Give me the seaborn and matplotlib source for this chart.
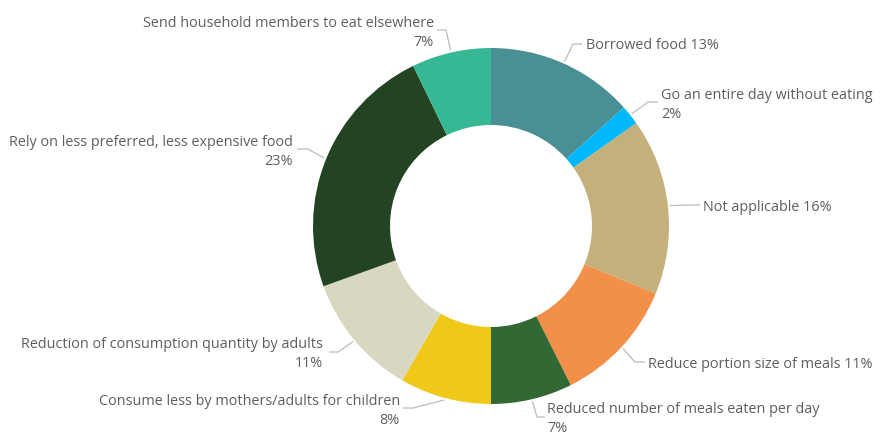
import numpy as np
import matplotlib
matplotlib.use("Agg")
import matplotlib.pyplot as plt
import seaborn as sns

categories = [
    "Borrowed food",
    "Go an entire day without eating",
    "Not applicable",
    "Reduce portion size of meals",
    "Reduced number of meals eaten per day",
    "Consume less by mothers/adults for children",
    "Reduction of consumption quantity by adults",
    "Rely on less preferred, less expensive food",
    "Send household members to eat elsewhere",
]
values = [13.4, 1.8, 16.0, 11.4, 7.4, 8.3, 11.2, 23.3, 7.2]
colors = ["#4A8F94", "#01B8FF", "#C4B07B", "#F28F49", "#326833",
          "#F0C818", "#D8D8C0", "#224422", "#36B894"]

sns.set_theme(style="white")
plt.rcParams["font.family"] = ["Open Sans", "DejaVu Sans"]

W, H = 885, 436
fig = plt.figure(figsize=(W / 100, H / 100), dpi=100)
ax = fig.add_axes([0, 0, 1, 1])
ax.set_xlim(0, W)
ax.set_ylim(0, H)
ax.set_aspect("equal")
ax.axis("off")

cx, cy, R, width = 491, 226, 178, 77
palette = sns.color_palette(colors)
wedges, _ = ax.pie(values, colors=palette, startangle=90, counterclock=False,
                   center=(cx, H - cy), radius=R,
                   wedgeprops=dict(width=width, linewidth=0))
ax.set_xlim(0, W)
ax.set_ylim(0, H)

total = sum(values)
pcts = [round(v / total * 100) for v in values]

# layout: (elbow x, elbow y, end x, text x, text y(center of block), ha, two_lines)
layout = [
    (573, 44, 582, 586, 44, "left", False),
    (648, 102, 658, 661, 103, "left", True),
    (690, 205, 700, 703, 206, "left", False),
    (635, 362, 645, 648, 363, "left", False),
    (537, 417, 545, 547, 417, "left", True),
    (413, 408, 403, 400, 409, "right", True),
    (338, 352, 329, 323, 352, "right", True),
    (308, 149, 297, 293, 150, "right", True),
    (446, 30, 437, 434, 31, "right", True),
]
text_dy = 2

text_color = "#605E5C"
line_color = "#BBBBBB"
cum = 0.0
for v, cat, p, lay in zip(values, categories, pcts, layout):
    mid = (cum + v / 2) / total * 2 * np.pi
    cum += v
    sx = cx + (R + 2) * np.sin(mid)
    sy = cy - (R + 2) * np.cos(mid)
    ex, ey, endx, tx, ty, ha, two = lay
    ax.plot([sx, ex, endx], [H - sy, H - ey, H - ey], color=line_color, lw=0.9,
            solid_capstyle="butt")
    if two:
        txt = f"{cat}\n{p}%"
    else:
        txt = f"{cat} {p}%"
    ax.text(tx, H - ty - text_dy, txt, ha=ha, va="center", fontsize=10.4,
            color=text_color, multialignment=ha, linespacing=1.36)

fig.savefig("out.png", dpi=100)
